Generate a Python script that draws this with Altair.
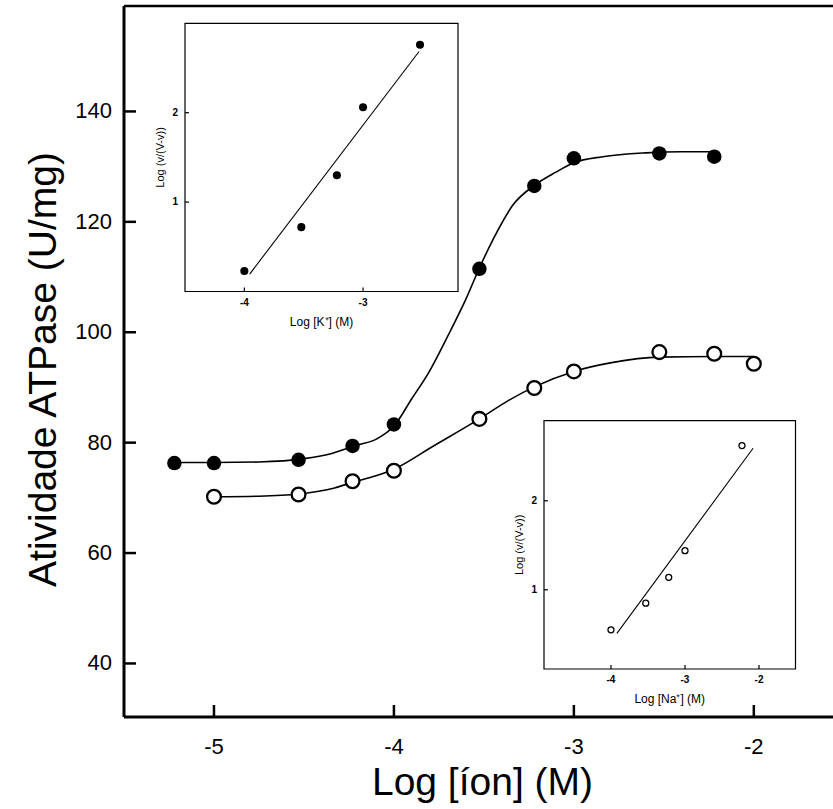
import altair as alt
import pandas as pd

# ---------------- data ----------------
k_x = [-5.22, -5.0, -4.53, -4.23, -4.0, -3.525, -3.22, -3.0, -2.525, -2.22]
k_y = [76.3, 76.3, 76.9, 79.4, 83.3, 111.5, 126.5, 131.5, 132.4, 131.8]
na_x = [-5.0, -4.53, -4.23, -4.0, -3.525, -3.22, -3.0, -2.525, -2.22, -2.0]
na_y = [70.2, 70.6, 73.0, 74.9, 84.3, 89.9, 92.9, 96.4, 96.1, 94.3]

k_fit_x = [-5.22, -5.0, -4.75, -4.5, -4.35, -4.2, -4.1, -4.0, -3.9, -3.81, -3.69,
           -3.6, -3.52, -3.43, -3.34, -3.22, -3.1, -3.0, -2.84, -2.6, -2.4, -2.22]
k_fit_y = [76.4, 76.4, 76.5, 77.1, 78.0, 79.6, 80.6, 83.0, 88.0, 92.5, 100.0,
           106.0, 112.0, 118.0, 123.0, 126.6, 129.0, 130.7, 131.8, 132.5, 132.7, 132.7]
na_fit_x = [-5.0, -4.75, -4.53, -4.33, -4.23, -4.1, -4.0, -3.785, -3.525, -3.36,
            -3.22, -3.0, -2.79, -2.525, -2.22, -2.0]
na_fit_y = [70.2, 70.3, 70.7, 71.8, 72.8, 74.0, 75.2, 79.3, 84.3, 87.7,
            90.1, 92.9, 94.5, 95.5, 95.6, 95.6]

main_x_ticks = [-5, -4, -3, -2]
main_y_ticks = [40, 60, 80, 100, 120, 140]
main_x_title = "Log [íon] (M)"
main_y_title = "Atividade ATPase (U/mg)"

# inset 1 (K+)
ik_x = [-4.0, -3.52, -3.22, -3.0, -2.52]
ik_y = [0.23, 0.72, 1.30, 2.06, 2.76]
ik_line_x = [-3.955, -2.528]
ik_line_y = [0.195, 2.685]
ik_x_ticks = [-4, -3]
ik_y_ticks = [1, 2]

# inset 2 (Na+)
ina_x = [-4.0, -3.53, -3.22, -3.0, -2.23]
ina_y = [0.55, 0.85, 1.14, 1.44, 2.62]
ina_line_x = [-3.92, -2.08]
ina_line_y = [0.51, 2.59]
ina_x_ticks = [-4, -3, -2]
ina_y_ticks = [1, 2]

inset_y_title = "Log (v/(V-v))"

# ---------------- layout ----------------
W, H = 709, 711
FONT = "Liberation Sans"

xs = alt.Scale(domain=[-5.5, -1.56], nice=False, zero=False)
ys = alt.Scale(domain=[30.3, 159.1], nice=False, zero=False)


def X(field, scale):
    return alt.X(field, type="quantitative", scale=scale, axis=None)


def Y(field, scale):
    return alt.Y(field, type="quantitative", scale=scale, axis=None)


def tick_df(vals):
    return pd.DataFrame({"v": vals, "t": [str(v) for v in vals]})


k_pts_df = pd.DataFrame({"x": k_x, "y": k_y})
na_pts_df = pd.DataFrame({"x": na_x, "y": na_y})
k_fit_df = pd.DataFrame({"x": k_fit_x, "y": k_fit_y})
na_fit_df = pd.DataFrame({"x": na_fit_x, "y": na_fit_y})
one = pd.DataFrame({"a": [0]})

top_rule = alt.Chart(one).mark_rule(color="black", strokeWidth=2.5).encode(
    x=alt.value(0), x2=alt.value(W), y=alt.value(0))
left_rule = alt.Chart(one).mark_rule(color="black", strokeWidth=3).encode(
    x=alt.value(0), y=alt.value(0), y2=alt.value(H))
bottom_rule = alt.Chart(one).mark_rule(color="black", strokeWidth=3).encode(
    x=alt.value(0), x2=alt.value(W), y=alt.value(H))

ytick_rules = alt.Chart(tick_df(main_y_ticks)).mark_rule(color="black", strokeWidth=2.5).encode(
    y=Y("v", ys), x=alt.value(0), x2=alt.value(12))
xtick_rules = alt.Chart(tick_df(main_x_ticks)).mark_rule(color="black", strokeWidth=2.5).encode(
    x=X("v", xs), y=alt.value(H), y2=alt.value(H - 12))

ytick_text = alt.Chart(tick_df(main_y_ticks)).mark_text(
    align="right", baseline="middle", font=FONT, fontSize=22, color="black").encode(
    y=Y("v", ys), x=alt.value(-12), text="t:N")
xtick_text = alt.Chart(tick_df(main_x_ticks)).mark_text(
    align="center", baseline="top", font=FONT, fontSize=22, color="black").encode(
    x=X("v", xs), y=alt.value(H + 20), text="t:N")

x_title = alt.Chart(pd.DataFrame({"t": [main_x_title]})).mark_text(
    align="center", baseline="middle", font=FONT, fontSize=39, color="black").encode(
    x=alt.value(W / 2 + 4), y=alt.value(H + 66), text="t:N")
y_title = alt.Chart(pd.DataFrame({"t": [main_y_title]})).mark_text(
    align="center", baseline="middle", font=FONT, fontSize=39, color="black", angle=270).encode(
    x=alt.value(-80), y=alt.value(H / 2 + 8), text="t:N")

k_line = alt.Chart(k_fit_df).mark_line(color="black", strokeWidth=1.6, interpolate="monotone").encode(
    x=X("x", xs), y=Y("y", ys))
na_line = alt.Chart(na_fit_df).mark_line(color="black", strokeWidth=1.6, interpolate="monotone").encode(
    x=X("x", xs), y=Y("y", ys))
k_pts = alt.Chart(k_pts_df).mark_circle(color="black", size=210, opacity=1).encode(
    x=X("x", xs), y=Y("y", ys))
na_pts = alt.Chart(na_pts_df).mark_point(shape="circle", filled=True, fill="white", stroke="black",
                                         strokeWidth=2.3, size=190, fillOpacity=1, strokeOpacity=1).encode(
    x=X("x", xs), y=Y("y", ys))

main = alt.layer(top_rule, left_rule, bottom_rule, ytick_rules, xtick_rules, ytick_text, xtick_text,
                 x_title, y_title, k_line, na_line, k_pts, na_pts)


def inset(px_x, px_y, dom_x, dom_y, pts_x, pts_y, line_x, line_y, xt, yt, xtitle, filled, mark_size):
    sx = alt.Scale(domain=dom_x, range=px_x, nice=False, zero=False)
    sy = alt.Scale(domain=dom_y, range=px_y, nice=False, zero=False)
    box = alt.Chart(pd.DataFrame({"x0": [dom_x[0]], "x1": [dom_x[1]], "y0": [dom_y[0]], "y1": [dom_y[1]]})).mark_rect(
        fill="white", stroke="black", strokeWidth=1.2).encode(
        x=X("x0", sx), x2="x1:Q", y=Y("y0", sy), y2="y1:Q")
    xtk = alt.Chart(tick_df(xt)).mark_rule(color="black", strokeWidth=1.2).encode(
        x=X("v", sx), y=alt.value(px_y[0]), y2=alt.value(px_y[0] - 4))
    ytk = alt.Chart(tick_df(yt)).mark_rule(color="black", strokeWidth=1.2).encode(
        y=Y("v", sy), x=alt.value(px_x[0]), x2=alt.value(px_x[0] + 4))
    xlab = alt.Chart(tick_df(xt)).mark_text(align="center", baseline="top", font=FONT, fontSize=10,
                                            fontWeight="bold", color="black").encode(
        x=X("v", sx), y=alt.value(px_y[0] + 6), text="t:N")
    ylab = alt.Chart(tick_df(yt)).mark_text(align="right", baseline="middle", font=FONT, fontSize=10,
                                            fontWeight="bold", color="black").encode(
        y=Y("v", sy), x=alt.value(px_x[0] - 7), text="t:N")
    xtl = alt.Chart(pd.DataFrame({"t": [xtitle]})).mark_text(
        align="center", baseline="middle", font=FONT, fontSize=12, color="black").encode(
        x=alt.value((px_x[0] + px_x[1]) / 2), y=alt.value(px_y[0] + 30), text="t:N")
    ytl = alt.Chart(pd.DataFrame({"t": [inset_y_title]})).mark_text(
        align="center", baseline="middle", font=FONT, fontSize=11, color="black", angle=270).encode(
        x=alt.value(px_x[0] - 24), y=alt.value((px_y[0] + px_y[1]) / 2), text="t:N")
    ln = alt.Chart(pd.DataFrame({"x": line_x, "y": line_y})).mark_line(color="black", strokeWidth=1.1).encode(
        x=X("x", sx), y=Y("y", sy))
    if filled:
        pm = alt.Chart(pd.DataFrame({"x": pts_x, "y": pts_y})).mark_circle(color="black", size=mark_size, opacity=1)
    else:
        pm = alt.Chart(pd.DataFrame({"x": pts_x, "y": pts_y})).mark_point(
            shape="circle", filled=True, fill="white", stroke="black", strokeWidth=1.3,
            size=mark_size, fillOpacity=1, strokeOpacity=1)
    pm = pm.encode(x=X("x", sx), y=Y("y", sy))
    return alt.layer(box, xtk, ytk, xlab, ylab, xtl, ytl, ln, pm)


ins1 = inset([61, 334], [285.5, 17.3], [-4.5, -2.2], [0, 3], ik_x, ik_y, ik_line_x, ik_line_y,
             ik_x_ticks, ik_y_ticks, "Log [K⁺] (M)", True, 65)
ins2 = inset([420, 671.5], [663, 414.7], [-4.905, -1.507], [0.11, 2.9], ina_x, ina_y, ina_line_x,
             ina_line_y, ina_x_ticks, ina_y_ticks, "Log [Na⁺] (M)", False, 36)

chart = alt.layer(main, ins1, ins2).resolve_scale(x="independent", y="independent").properties(
    width=W, height=H,
    padding={"left": 124, "top": 6, "right": 0, "bottom": 92},
    autosize=alt.AutoSizeParams(type="none"),
).configure_view(stroke=None).configure(background="white")

chart.save("out.html", embed_options={"renderer": "svg", "actions": False})
